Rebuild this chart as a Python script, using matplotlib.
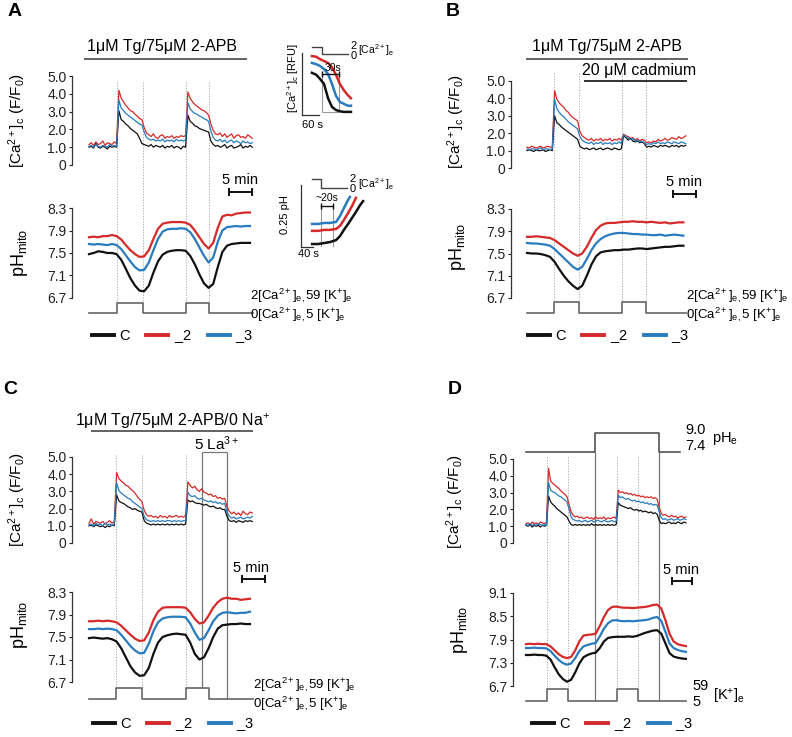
import numpy as np
import matplotlib
matplotlib.use('Agg')
import matplotlib.pyplot as plt
from matplotlib.lines import Line2D

plt.rcParams['font.family'] = ['Liberation Sans', 'DejaVu Sans']
plt.rcParams['mathtext.fontset'] = 'custom'
plt.rcParams['mathtext.rm'] = 'Liberation Sans'
plt.rcParams['mathtext.it'] = 'Liberation Sans:italic'
plt.rcParams['mathtext.bf'] = 'Liberation Sans:bold'

RED = '#d42a2a'
BLUE = '#2a7bbd'
BLACK = '#111111'
GRAY = '#666666'

# ---------------- DATA ----------------
CA_TICKS = [0, 1, 2, 3, 4, 5]
CA_TICKLABELS = ['0', '1.0', '2.0', '3.0', '4.0', '5.0']
PH_TICKS_ABC = [6.7, 7.1, 7.5, 7.9, 8.3]
PH_TICKS_D = [6.7, 7.3, 7.9, 8.5, 9.1]
SERIES = ['C', '_2', '_3']

# Panel A  (minutes)
a_ca_t = np.arange(72) * 0.5
a_ca_red = [1.15,1.25,1.10,1.30,1.15,1.20,1.35,1.10,1.25,1.20,1.15,1.30,
            1.20,4.20,3.75,3.55,3.35,3.20,3.05,3.00,2.85,2.75,2.60,2.55,
            2.10,1.80,1.70,1.60,1.75,1.55,1.50,1.65,1.70,1.50,1.60,1.55,
            1.65,1.50,1.60,1.55,1.65,1.60,1.65,4.10,3.75,3.55,3.40,3.30,
            3.20,3.10,3.05,2.95,2.80,2.30,1.95,1.75,1.70,1.80,1.60,1.75,
            1.55,1.65,1.75,1.50,1.65,1.70,1.55,1.60,1.50,1.70,1.60,1.50]
a_ca_blue = [1.05,1.10,1.00,1.15,1.05,1.00,1.10,1.05,1.00,1.15,1.05,1.10,
             1.05,3.65,3.20,3.05,2.90,2.80,2.70,2.60,2.50,2.40,2.30,2.25,
             1.85,1.55,1.45,1.40,1.45,1.35,1.40,1.35,1.45,1.30,1.40,1.35,
             1.40,1.30,1.45,1.35,1.40,1.35,1.40,3.50,3.15,3.00,2.90,2.85,
             2.75,2.70,2.60,2.55,2.45,1.90,1.55,1.40,1.35,1.45,1.30,1.40,
             1.25,1.35,1.40,1.25,1.35,1.30,1.20,1.35,1.25,1.30,1.20,1.25]
a_ca_black = [1.00,1.05,0.95,1.20,1.00,0.95,1.05,1.00,0.90,1.05,1.00,1.05,
              1.00,3.05,2.55,2.45,2.30,2.20,2.05,1.95,1.85,1.75,1.50,1.20,
              1.15,1.10,1.05,1.15,1.00,1.10,1.05,1.00,1.10,0.95,1.05,1.00,
              1.10,0.95,1.05,1.00,0.90,1.05,1.00,2.80,2.45,2.35,2.20,2.15,
              2.05,2.00,1.95,1.90,1.85,1.35,1.15,1.05,1.10,1.00,1.05,1.15,
              0.95,1.05,1.10,0.95,1.00,1.05,1.15,0.95,1.05,1.00,1.10,1.00]
a_ph_t = np.arange(36)
a_ph_red = [7.78,7.79,7.78,7.80,7.80,7.82,7.80,7.74,7.64,7.55,7.48,7.43,7.44,7.55,7.75,7.93,8.02,8.04,
            8.05,8.05,8.05,8.04,8.00,7.90,7.78,7.66,7.58,7.68,7.95,8.15,8.18,8.17,8.20,8.21,8.22,8.22]
a_ph_blue = [7.66,7.65,7.66,7.65,7.64,7.66,7.64,7.57,7.46,7.35,7.25,7.19,7.20,7.33,7.55,7.75,7.88,7.92,
             7.93,7.93,7.94,7.93,7.87,7.75,7.60,7.45,7.33,7.42,7.70,7.90,7.96,7.97,7.98,7.97,7.98,7.98]
a_ph_black = [7.48,7.50,7.53,7.52,7.50,7.50,7.48,7.38,7.22,7.05,6.92,6.83,6.82,6.92,7.15,7.35,7.47,7.52,
              7.54,7.55,7.55,7.54,7.45,7.30,7.12,6.96,6.88,6.95,7.25,7.52,7.63,7.66,7.67,7.68,7.68,7.68]
a_step_t = [0, 6.1, 11.7, 21.0, 26.1, 35.6]
a_step_ca = [0, 2, 0, 2, 0, 0]
a_events = [6.1, 11.7, 21.0, 26.1]
a_drug = [-1.1, 34.3]
a_scale = [30.4, 35.4]

# Panel B
b_ca_t = np.arange(70) * 0.5
b_ca_red = [1.20,1.15,1.25,1.20,1.15,1.20,1.25,1.15,1.20,1.25,1.20,1.20,
            4.45,3.95,3.75,3.60,3.50,3.30,3.20,3.00,2.90,2.80,2.70,2.10,
            1.85,1.75,1.65,1.60,1.70,1.55,1.65,1.60,1.70,1.55,1.65,1.60,
            1.70,1.55,1.65,1.60,1.70,1.60,1.95,1.85,1.80,1.70,1.75,1.60,
            1.70,1.55,1.65,1.60,1.45,1.50,1.45,1.55,1.50,1.65,1.55,1.60,
            1.70,1.60,1.65,1.75,1.70,1.65,1.80,1.70,1.75,1.85]
b_ca_blue = [1.10,1.05,1.10,1.10,1.05,1.10,1.15,1.05,1.10,1.10,1.05,1.10,
             3.95,3.40,3.20,3.05,2.95,2.80,2.65,2.55,2.45,2.35,2.25,1.80,
             1.60,1.50,1.45,1.40,1.50,1.35,1.45,1.40,1.50,1.35,1.45,1.40,
             1.45,1.35,1.45,1.40,1.50,1.40,1.90,1.80,1.70,1.65,1.70,1.55,
             1.60,1.50,1.55,1.45,1.35,1.40,1.35,1.45,1.40,1.50,1.40,1.45,
             1.40,1.50,1.45,1.40,1.50,1.45,1.40,1.50,1.45,1.40]
b_ca_black = [1.00,1.05,1.00,0.95,1.05,1.00,1.00,1.05,0.95,1.00,1.05,1.00,
              3.00,2.60,2.50,2.35,2.25,2.15,2.05,1.95,1.85,1.75,1.65,1.25,
              1.15,1.10,1.15,1.05,1.10,1.15,1.05,1.10,1.15,1.05,1.10,1.15,
              1.10,1.05,1.15,1.10,1.05,1.10,1.85,1.75,1.60,1.70,1.55,1.50,
              1.55,1.45,1.50,1.40,1.20,1.25,1.20,1.30,1.25,1.20,1.30,1.25,
              1.30,1.25,1.20,1.30,1.25,1.30,1.20,1.30,1.25,1.30]
b_ph_t = np.arange(35)
b_ph_red = [7.80,7.80,7.81,7.80,7.79,7.78,7.74,7.68,7.62,7.56,7.50,7.46,7.50,7.62,7.78,7.92,8.00,8.04,
            8.05,8.05,8.06,8.07,8.07,8.08,8.07,8.07,8.06,8.07,8.06,8.05,8.06,8.04,8.05,8.06,8.06]
b_ph_blue = [7.69,7.68,7.68,7.67,7.66,7.64,7.58,7.50,7.42,7.34,7.26,7.21,7.26,7.40,7.56,7.68,7.76,7.81,
             7.84,7.86,7.87,7.87,7.86,7.85,7.85,7.84,7.84,7.83,7.83,7.84,7.82,7.83,7.84,7.83,7.82]
b_ph_black = [7.51,7.50,7.50,7.49,7.47,7.44,7.35,7.22,7.10,7.00,6.92,6.86,6.92,7.10,7.30,7.45,7.52,7.54,
              7.55,7.56,7.56,7.57,7.57,7.58,7.59,7.59,7.58,7.59,7.60,7.61,7.62,7.62,7.63,7.64,7.64]
b_step_t = [0, 5.9, 11.3, 20.7, 25.9, 34.6]
b_step_ca = [0, 2, 0, 2, 0, 0]
b_events = [5.9, 11.3, 20.7, 25.9]
b_drug = [-0.2, 35.0]
b_cadmium = [12.4, 34.8]
b_scale = [31.7, 36.7]

# Panel C
c_ca_t = np.arange(72) * 0.5
c_ca_red = [1.15,1.40,1.10,1.25,1.20,1.15,1.25,1.10,1.20,1.30,1.15,1.25,
            4.10,3.75,3.60,3.50,3.35,3.30,3.15,3.05,2.90,2.70,2.55,2.40,
            1.90,1.65,1.55,1.60,1.50,1.55,1.45,1.60,1.50,1.55,1.45,1.60,
            1.50,1.55,1.60,1.50,1.55,1.50,1.60,3.55,3.35,3.20,3.30,3.10,
            3.00,3.15,2.95,2.90,2.80,2.85,2.70,2.75,2.60,2.65,2.55,2.60,
            2.10,1.85,1.70,1.80,1.65,1.75,1.60,1.85,1.70,1.65,1.80,1.75]
c_ca_blue = [1.05,1.10,1.00,1.15,1.05,1.10,1.00,1.15,1.05,1.10,1.00,1.10,
             3.50,3.05,2.90,2.80,2.70,2.60,2.55,2.40,2.30,2.20,2.10,2.00,
             1.55,1.35,1.30,1.25,1.30,1.25,1.30,1.25,1.30,1.25,1.30,1.30,
             1.25,1.30,1.25,1.30,1.25,1.30,1.30,2.95,2.75,2.70,2.75,2.60,
             2.55,2.60,2.50,2.45,2.40,2.45,2.35,2.40,2.30,2.35,2.25,2.30,
             1.80,1.55,1.45,1.50,1.40,1.45,1.50,1.40,1.45,1.50,1.45,1.55]
c_ca_black = [1.00,1.05,0.95,1.05,1.00,0.95,1.00,0.90,1.00,0.95,1.05,1.00,
              2.80,2.45,2.35,2.30,2.20,2.10,2.05,1.95,2.00,1.90,1.85,1.80,
              1.30,1.15,1.10,1.05,1.10,1.05,1.10,1.05,1.10,1.05,1.10,1.05,
              1.10,1.05,1.10,1.05,1.10,1.05,1.10,2.50,2.40,2.45,2.35,2.30,
              2.30,2.25,2.20,2.25,2.15,2.10,2.15,2.05,2.00,2.05,1.95,1.95,
              1.55,1.30,1.25,1.30,1.20,1.30,1.25,1.20,1.30,1.25,1.30,1.25]
c_ph_t = np.arange(36)
c_ph_red = [7.78,7.78,7.79,7.78,7.79,7.78,7.76,7.70,7.62,7.54,7.47,7.43,7.44,7.58,7.80,7.95,8.02,8.03,
            8.03,8.03,8.03,8.02,7.94,7.82,7.74,7.76,7.88,8.02,8.12,8.18,8.20,8.18,8.18,8.16,8.17,8.18]
c_ph_blue = [7.64,7.64,7.65,7.64,7.65,7.64,7.62,7.54,7.44,7.34,7.26,7.21,7.22,7.38,7.60,7.76,7.83,7.85,
             7.86,7.86,7.86,7.85,7.74,7.58,7.45,7.48,7.62,7.78,7.88,7.93,7.94,7.93,7.92,7.93,7.93,7.95]
c_ph_black = [7.48,7.49,7.48,7.47,7.48,7.46,7.42,7.30,7.14,6.98,6.87,6.81,6.82,6.95,7.20,7.40,7.50,7.53,
              7.55,7.56,7.55,7.54,7.40,7.20,7.10,7.14,7.30,7.50,7.65,7.71,7.72,7.73,7.73,7.74,7.73,7.73]
c_step_t = [0, 5.9, 11.5, 21.1, 26.1, 35.6]
c_step_ca = [0, 2, 0, 2, 0, 0]
c_events = [5.9, 11.5, 21.1]
c_drug = [0.4, 35.7]
c_la = [24.6, 30.0]
c_scale = [33.3, 38.3]

# Panel D
d_ca_t = np.arange(79) * 0.5
d_ca_red = [1.15,1.20,1.10,1.25,1.15,1.20,1.10,1.25,1.20,1.15,1.25,4.45,
            3.70,3.55,3.45,3.35,3.25,3.10,3.00,2.90,2.75,2.30,1.85,1.65,
            1.55,1.60,1.50,1.55,1.45,1.50,1.55,1.45,1.50,1.40,1.55,1.45,
            1.50,1.45,1.55,1.40,1.50,1.45,1.50,1.55,1.45,3.15,3.00,3.05,
            2.95,3.00,2.90,2.95,2.85,2.90,2.80,2.85,2.75,2.80,2.70,2.75,
            2.70,2.75,2.65,2.70,2.60,2.10,1.75,1.65,1.70,1.60,1.55,1.65,
            1.55,1.60,1.50,1.55,1.60,1.50,1.55]
d_ca_blue = [1.10,1.05,1.15,1.05,1.10,1.05,1.15,1.10,1.05,1.10,1.05,3.60,
             3.15,3.05,3.00,2.90,2.80,2.75,2.65,2.55,2.45,2.00,1.55,1.40,
             1.35,1.30,1.35,1.25,1.30,1.35,1.25,1.30,1.35,1.25,1.30,1.35,
             1.30,1.25,1.35,1.30,1.25,1.30,1.35,1.25,1.30,2.85,2.70,2.75,
             2.65,2.60,2.65,2.55,2.50,2.55,2.45,2.50,2.40,2.45,2.35,2.40,
             2.30,2.35,2.25,2.30,2.25,1.85,1.50,1.40,1.45,1.35,1.40,1.45,
             1.35,1.40,1.45,1.35,1.40,1.45,1.40]
d_ca_black = [1.05,1.00,1.10,0.95,1.05,1.00,1.05,0.95,1.05,1.00,1.05,2.80,
              2.45,2.30,2.20,2.05,1.95,1.85,1.75,1.65,1.55,1.30,1.10,1.05,
              1.10,1.05,1.10,1.05,1.10,1.05,1.10,1.05,1.15,1.05,1.10,1.05,
              1.10,1.05,1.10,1.05,1.10,1.05,1.10,1.05,1.10,2.40,2.25,2.20,
              2.15,2.10,2.05,2.10,2.00,1.95,2.00,1.90,1.95,1.85,1.90,1.85,
              1.80,1.85,1.75,1.80,1.70,1.35,1.15,1.20,1.15,1.20,1.25,1.15,
              1.20,1.15,1.25,1.20,1.15,1.25,1.20]
d_ph_t = np.arange(40)
d_ph_red = [7.78,7.79,7.78,7.79,7.78,7.78,7.72,7.62,7.52,7.45,7.42,7.45,7.62,7.85,8.00,8.02,8.03,8.05,8.25,8.48,
            8.66,8.74,8.75,8.73,8.72,8.72,8.71,8.72,8.73,8.74,8.76,8.79,8.80,8.70,8.40,8.05,7.85,7.78,7.75,7.73]
d_ph_blue = [7.68,7.68,7.69,7.68,7.68,7.67,7.60,7.48,7.37,7.29,7.25,7.28,7.42,7.60,7.72,7.76,7.79,7.81,7.98,8.18,
             8.32,8.39,8.40,8.38,8.37,8.38,8.37,8.38,8.39,8.40,8.42,8.46,8.48,8.38,8.10,7.80,7.68,7.63,7.60,7.58]
d_ph_black = [7.50,7.50,7.51,7.50,7.50,7.48,7.38,7.18,7.00,6.88,6.81,6.86,7.05,7.28,7.44,7.50,7.54,7.56,7.68,7.85,
              7.94,7.96,7.97,7.97,7.97,7.98,7.97,7.99,8.03,8.07,8.10,8.13,8.14,8.05,7.80,7.55,7.46,7.43,7.41,7.40]
d_step_t = [0, 5.1, 10.2, 22.2, 27.3, 39.0]
d_step_k = [5, 59, 5, 59, 5, 5]
d_events = [5.1, 10.2, 22.2, 27.3]
d_phe_t = [0, 16.8, 32.4, 37.6]
d_phe = [7.4, 9.0, 7.4, 7.4]
d_scale = [35.6, 40.6]

# Inset A top (seconds, arbitrary RFU)
i1_t = [35, 50, 64, 78, 92, 106, 120, 134, 148, 162, 173]
i1_red = [95, 94, 90, 87, 84, 77, 65, 50, 40, 32, 27]
i1_blue = [84, 82, 79, 74, 66, 50, 31, 21, 18, 15, 15]
i1_black = [68, 65, 58, 50, 27, 13, 8, 6, 5, 5, 5]
i1_step_t = [35, 70, 163]
i1_step = [2, 0, 0]
i1_marks = [70, 131]

# Inset A bottom (seconds, delta pH)
i2_t_blue = [37, 57, 77, 97, 117, 130, 143, 157, 163]
i2_blue = [0.093, 0.093, 0.097, 0.097, 0.101, 0.125, 0.157, 0.190, 0.202]
i2_t_red = [37, 57, 77, 97, 117, 130, 143, 157, 170, 183]
i2_red = [0.065, 0.065, 0.069, 0.069, 0.073, 0.085, 0.109, 0.137, 0.165, 0.198]
i2_t_black = [37, 57, 77, 97, 117, 130, 143, 157, 170, 183, 197, 207]
i2_black = [0.012, 0.012, 0.016, 0.020, 0.028, 0.044, 0.069, 0.093, 0.117, 0.141, 0.169, 0.185]
i2_step_t = [37, 67, 153]
i2_step = [2, 0, 0]
i2_marks = [67, 107]

# ---------------- FIGURE ----------------
W, H = 792, 737
fig = plt.figure(figsize=(W / 100, H / 100), dpi=100)


def px_ax(l, t, r, b):
    return fig.add_axes([l / W, 1 - b / H, (r - l) / W, (b - t) / H])


def ftext(x, y, s, **kw):
    kw.setdefault('va', 'center')
    return fig.text(x / W, 1 - y / H, s, **kw)


def style_axis(ax, ticks, labels):
    for k in ('top', 'right', 'bottom'):
        ax.spines[k].set_visible(False)
    ax.spines['left'].set_linewidth(0.9)
    ax.spines['left'].set_color('#333333')
    ax.set_xticks([])
    ax.set_yticks(ticks)
    ax.set_yticklabels(labels)
    ax.tick_params(axis='y', length=2, width=0.8, pad=2, labelsize=10, colors='#222222')
    ax.patch.set_alpha(0)


def panel(geo, ca, ph, ph_ticks, step_t, step_v, step_lim, events):
    x0, ppm, sp = geo['x0'], geo['ppm'], geo['spine']
    right = sp + 240
    xl = ((sp - x0) / ppm, (right - x0) / ppm)
    ov = px_ax(sp, geo['ov_top'], right, geo['step_lo'] + 3)
    ov.set_xlim(xl)
    ov.set_ylim(geo['step_lo'] + 3, geo['ov_top'])
    ov.axis('off')
    ov.vlines(events, geo['dot_top'], geo['step_hi'], colors='#a8a8a8',
              linestyles=(0, (1.2, 1.6)), lw=0.7)

    a = px_ax(sp, geo['ca_top'], right, geo['ca_bot'])
    a.set_xlim(xl)
    a.set_ylim(0, 5)
    style_axis(a, CA_TICKS, CA_TICKLABELS)
    t, r, bl, k = ca
    a.plot(t, r, color=RED, lw=0.9, clip_on=False)
    a.plot(t, k, color=BLACK, lw=0.9, clip_on=False)
    a.plot(t, bl, color=BLUE, lw=0.9, clip_on=False)

    p = px_ax(sp, geo['ph_top'], right, geo['ph_bot'])
    p.set_xlim(xl)
    p.set_ylim(ph_ticks[0], ph_ticks[-1])
    style_axis(p, ph_ticks, ['%.1f' % v for v in ph_ticks])
    t, r, bl, k = ph
    p.plot(t, r, color=RED, lw=1.6, clip_on=False)
    p.plot(t, bl, color=BLUE, lw=1.6, clip_on=False)
    p.plot(t, k, color=BLACK, lw=1.6, clip_on=False)

    s = px_ax(sp, geo['step_hi'], right, geo['step_lo'])
    s.set_xlim(xl)
    s.set_ylim(*step_lim)
    s.axis('off')
    s.plot(step_t, step_v, drawstyle='steps-post', color=GRAY, lw=1.2, clip_on=False)
    return ov


def scalebar(ov, span, y):
    ov.plot(span, [y, y], color='#111111', lw=1.4, marker='|', ms=6, mew=1.4, clip_on=False)


def legend(x, y):
    hs = [Line2D([], [], color=c, lw=2.8) for c in (BLACK, RED, BLUE)]
    labs = ['C', r'$\_$2', r'$\_$3']
    fig.legend(hs, labs, loc='center left', bbox_to_anchor=(x / W, 1 - y / H), ncol=3,
               frameon=False, handlelength=1.5, handletextpad=0.4, columnspacing=1.1,
               borderaxespad=0, borderpad=0, fontsize=10.5)


CA_LABEL = r'[Ca$^{2+}$]$_{\mathrm{c}}$ (F/F$_{0}$)'
PH_LABEL = r'pH$_{\mathrm{mito}}$'
STEP_HI = r'2[Ca$^{2+}$]$_{\mathrm{e,}}$59 [K$^{+}$]$_{\mathrm{e}}$'
STEP_LO = r'0[Ca$^{2+}$]$_{\mathrm{e,}}$5 [K$^{+}$]$_{\mathrm{e}}$'
STEP_LABEL = STEP_HI + '\n' + STEP_LO
TITLE = '1μM Tg/75μM 2-APB'
SL = 9.5  # step label font size

# ---- Panel A ----
geoA = dict(x0=89, ppm=4.6, spine=72, ov_top=30, ca_top=76, ca_bot=165, ph_top=208, ph_bot=298,
            step_hi=303, step_lo=313, dot_top=82)
ovA = panel(geoA, (a_ca_t, a_ca_red, a_ca_blue, a_ca_black), (a_ph_t, a_ph_red, a_ph_blue, a_ph_black),
            PH_TICKS_ABC, a_step_t, a_step_ca, (0, 2), a_events)
ovA.hlines(59, a_drug[0], a_drug[1], color='#555555', lw=1.3)
scalebar(ovA, a_scale, 192)
ftext(8, 12, 'A', fontsize=14, fontweight='bold')
ftext(162, 47, TITLE, fontsize=11.5, ha='center')
ftext(240, 180, '5 min', fontsize=10.5, ha='center')
ftext(250, 305, STEP_LABEL, fontsize=SL, linespacing=1.05)
ftext(17, 121, CA_LABEL, fontsize=11, rotation=90, ha='center')
ftext(20, 253, PH_LABEL, fontsize=13, rotation=90, ha='center')
legend(92, 337)

# ---- Panel B ----
geoB = dict(x0=527, ppm=4.6, spine=511, ov_top=30, ca_top=81, ca_bot=168, ph_top=209, ph_bot=298,
            step_hi=302, step_lo=313, dot_top=73)
ovB = panel(geoB, (b_ca_t, b_ca_red, b_ca_blue, b_ca_black), (b_ph_t, b_ph_red, b_ph_blue, b_ph_black),
            PH_TICKS_ABC, b_step_t, b_step_ca, (0, 2), b_events)
ovB.hlines(59, b_drug[0], b_drug[1], color='#555555', lw=1.3)
ovB.hlines(81, b_cadmium[0], b_cadmium[1], color='#222222', lw=1.3)
scalebar(ovB, b_scale, 194)
ftext(446, 12, 'B', fontsize=14, fontweight='bold')
ftext(607, 47, TITLE, fontsize=11.5, ha='center')
ftext(639, 71, '20 μM cadmium', fontsize=11.5, ha='center')
ftext(684, 182, '5 min', fontsize=10.5, ha='center')
ftext(686, 305, STEP_LABEL, fontsize=SL, linespacing=1.05)
ftext(456, 122, CA_LABEL, fontsize=11, rotation=90, ha='center')
ftext(457, 247, PH_LABEL, fontsize=13, rotation=90, ha='center')
legend(528, 337)

# ---- Panel C ----
geoC = dict(x0=89, ppm=4.6, spine=72, ov_top=405, ca_top=457, ca_bot=543, ph_top=592, ph_bot=682,
            step_hi=688, step_lo=699, dot_top=455)
ovC = panel(geoC, (c_ca_t, c_ca_red, c_ca_blue, c_ca_black), (c_ph_t, c_ph_red, c_ph_blue, c_ph_black),
            PH_TICKS_ABC, c_step_t, c_step_ca, (0, 2), c_events)
ovC.hlines(431, c_drug[0], c_drug[1], color='#555555', lw=1.3)
ovC.vlines(c_la[0], 452, 688, color='#777777', lw=0.9)
ovC.vlines(c_la[1], 452, 699, color='#777777', lw=0.9)
ovC.hlines(452, c_la[0], c_la[1], color='#777777', lw=0.9)
scalebar(ovC, c_scale, 579)
ftext(3, 390, 'C', fontsize=14, fontweight='bold')
ftext(173, 421, r'1μM Tg/75μM 2-APB/0 Na$^{+}$', fontsize=11.5, ha='center')
ftext(217, 444, r'5 La$^{3+}$', fontsize=11, ha='center')
ftext(251, 568, '5 min', fontsize=10.5, ha='center')
ftext(253, 694, STEP_LABEL, fontsize=SL, linespacing=1.05)
ftext(17, 500, CA_LABEL, fontsize=11, rotation=90, ha='center')
ftext(20, 625, PH_LABEL, fontsize=13, rotation=90, ha='center')
legend(93, 725)

# ---- Panel D ----
geoD = dict(x0=526, ppm=4.1, spine=513, ov_top=420, ca_top=459, ca_bot=543, ph_top=593, ph_bot=686,
            step_hi=689, step_lo=701, dot_top=457)
ovD = panel(geoD, (d_ca_t, d_ca_red, d_ca_blue, d_ca_black), (d_ph_t, d_ph_red, d_ph_blue, d_ph_black),
            PH_TICKS_D, d_step_t, d_step_k, (5, 59), d_events)
ovD.vlines([d_phe_t[1], d_phe_t[2]], 452, 701, color='#777777', lw=0.9)
scalebar(ovD, d_scale, 581)
xlD = ovD.get_xlim()
pe = px_ax(513, 433, 753, 452)
pe.set_xlim(xlD)
pe.set_ylim(7.4, 9.0)
pe.axis('off')
pe.plot(d_phe_t, d_phe, drawstyle='steps-post', color='#444444', lw=1.1, clip_on=False)
ftext(448, 390, 'D', fontsize=14, fontweight='bold')
ftext(685, 438, '9.0\n7.4', fontsize=10.5, linespacing=1.2)
ftext(712, 439, r'pH$_{\mathrm{e}}$', fontsize=10.5)
ftext(681, 570, '5 min', fontsize=10.5, ha='center')
ftext(692, 694, '59\n5', fontsize=10.5, linespacing=1.1)
ftext(713, 696, r'[K$^{+}$]$_{\mathrm{e}}$', fontsize=10.5)
ftext(455, 502, CA_LABEL, fontsize=11, rotation=90, ha='center')
ftext(460, 630, PH_LABEL, fontsize=13, rotation=90, ha='center')
legend(532, 725)

# ---- Inset A top ----
ti = px_ax(302, 53, 363, 115)
ti.set_xlim(0, 61 / 0.283)
ti.set_ylim(0, 100)
for k in ('top', 'right'):
    ti.spines[k].set_visible(False)
ti.spines['bottom'].set_bounds(0, 60)
for k in ('left', 'bottom'):
    ti.spines[k].set_linewidth(0.9)
    ti.spines[k].set_color('#333333')
ti.set_xticks([])
ti.set_yticks([])
ti.patch.set_alpha(0)
ti.vlines(i1_marks, 5, 66, color='#999999', lw=0.8)
ti.hlines(5, i1_marks[0], i1_marks[1], color='#999999', lw=0.8)
ti.plot(i1_t, i1_red, color=RED, lw=1.8)
ti.plot(i1_t, i1_blue, color=BLUE, lw=1.8)
ti.plot(i1_t, i1_black, color=BLACK, lw=1.8)
ti.plot(i1_marks, [66, 66], color='#111111', lw=1.0, marker='|', ms=4, mew=1.0)
tis = px_ax(302, 47, 363, 54)
tis.set_xlim(0, 61 / 0.283)
tis.set_ylim(0, 2)
tis.axis('off')
tis.plot(i1_step_t, i1_step, drawstyle='steps-post', color='#444444', lw=1.0, clip_on=False)
ftext(333, 68, '30s', fontsize=7.5, ha='center')
ftext(312, 125, '60 s', fontsize=8, ha='center')
ftext(354, 51, '2\n0', fontsize=8, ha='center', linespacing=0.9)
ftext(358, 50, r'[Ca$^{2+}$]$_{\mathrm{e}}$', fontsize=7.5)
ftext(293, 78, r'[Ca$^{2+}$]$_{\mathrm{c}}$ [RFU]', fontsize=8, rotation=90, ha='center')

# ---- Inset A bottom ----
bi = px_ax(301, 185, 367, 247)
bi.set_xlim(0, 66 / 0.3)
bi.set_ylim(0, 0.25)
for k in ('top', 'right'):
    bi.spines[k].set_visible(False)
bi.spines['bottom'].set_bounds(0, 40)
for k in ('left', 'bottom'):
    bi.spines[k].set_linewidth(0.9)
    bi.spines[k].set_color('#333333')
bi.set_xticks([])
bi.set_yticks([])
bi.patch.set_alpha(0)
bi.vlines(i2_marks, 0, 0.165, color='#999999', lw=0.8)
bi.plot(i2_t_blue, i2_blue, color=BLUE, lw=1.8, clip_on=False)
bi.plot(i2_t_red, i2_red, color=RED, lw=1.8, clip_on=False)
bi.plot(i2_t_black, i2_black, color=BLACK, lw=1.8, clip_on=False)
bi.plot(i2_marks, [0.165, 0.165], color='#111111', lw=1.0, marker='|', ms=4, mew=1.0)
bis = px_ax(301, 179, 367, 188)
bis.set_xlim(0, 66 / 0.3)
bis.set_ylim(0, 2)
bis.axis('off')
bis.plot(i2_step_t, i2_step, drawstyle='steps-post', color='#444444', lw=1.0, clip_on=False)
ftext(327, 198, '~20s', fontsize=7.5, ha='center')
ftext(308, 254, '40 s', fontsize=8, ha='center')
ftext(353, 184, '2\n0', fontsize=8, ha='center', linespacing=0.9)
ftext(358, 184, r'[Ca$^{2+}$]$_{\mathrm{e}}$', fontsize=7.5)
ftext(285, 215, '0.25 pH', fontsize=8, rotation=90, ha='center')

fig.savefig('out.png', dpi=100)
